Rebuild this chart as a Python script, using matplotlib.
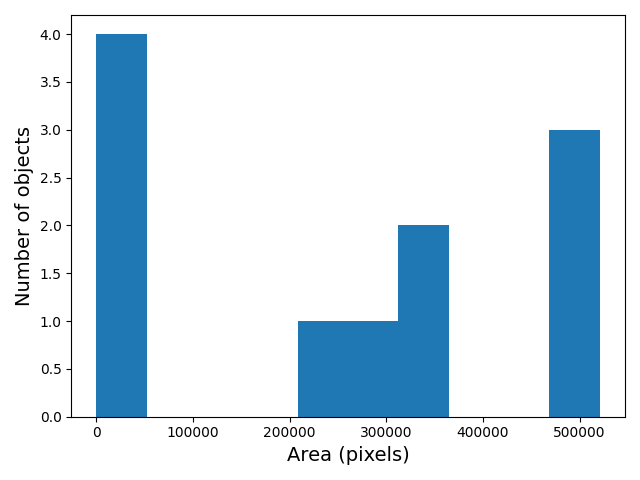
import matplotlib.pyplot as plt
import numpy as np

# object areas in pixels (estimated from the histogram)
areas = [150, 1200, 8000, 30000, 225000, 285000, 330000, 345000, 480000, 500000, 521000]

fig = plt.figure(figsize=(6.4, 4.8), dpi=100)
plt.hist(areas, bins=10, color='#1f77b4')
plt.xlabel('Area (pixels)', fontsize=14)
plt.ylabel('Number of objects', fontsize=14)
plt.tight_layout()
plt.savefig('out.png')
